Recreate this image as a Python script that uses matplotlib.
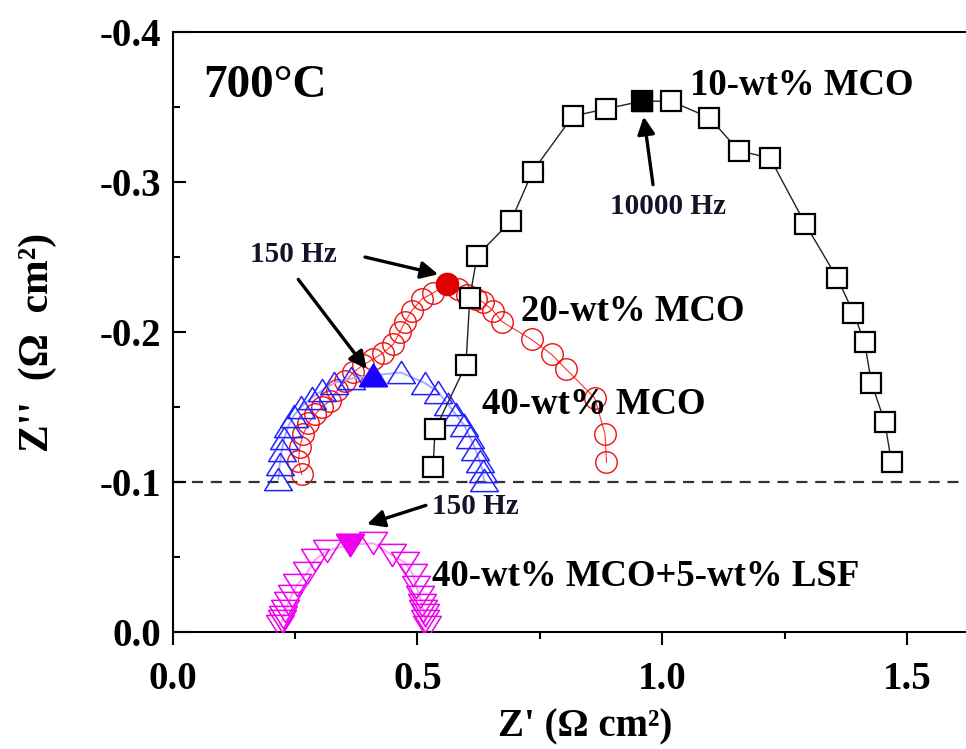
import matplotlib.pyplot as plt
from matplotlib.path import Path
from matplotlib.ticker import MultipleLocator, FormatStrFormatter

plt.rcParams['font.family'] = ['Liberation Serif', 'DejaVu Serif']
plt.rcParams['font.weight'] = 'bold'
plt.rcParams['axes.labelweight'] = 'bold'
plt.rcParams['axes.unicode_minus'] = False

# Nyquist data at 700 C, Z' and Z'' in ohm cm2
mco10_re = [0.532, 0.536, 0.599, 0.607, 0.622, 0.691, 0.735, 0.817, 0.886, 0.958, 1.018,
            1.096, 1.156, 1.220, 1.292, 1.357, 1.390, 1.413, 1.427, 1.454, 1.468]
mco10_im = [-0.110, -0.135, -0.178, -0.223, -0.251, -0.274, -0.307, -0.344, -0.349, -0.354, -0.354,
            -0.343, -0.321, -0.316, -0.272, -0.236, -0.213, -0.193, -0.166, -0.140, -0.113]
mco10_peak = 9  # 10000 Hz

mco20_re = [0.264, 0.257, 0.260, 0.267, 0.277, 0.291, 0.305, 0.321, 0.336, 0.352, 0.369,
            0.389, 0.410, 0.430, 0.451, 0.464, 0.475, 0.488, 0.509, 0.532, 0.560,
            0.583, 0.601, 0.620, 0.634, 0.655, 0.672, 0.733, 0.774, 0.804, 0.862, 0.883, 0.886]
mco20_im = [-0.105, -0.114, -0.123, -0.132, -0.139, -0.145, -0.150, -0.154, -0.161, -0.167, -0.173,
            -0.178, -0.182, -0.186, -0.192, -0.200, -0.207, -0.214, -0.222, -0.226, -0.232,
            -0.229, -0.225, -0.222, -0.220, -0.214, -0.207, -0.195, -0.185, -0.175, -0.156, -0.132, -0.113]
mco20_peak = 20  # 150 Hz

mco40_re = [0.216, 0.219, 0.223, 0.228, 0.236, 0.247, 0.262, 0.284, 0.305, 0.330, 0.365, 0.410,
            0.466, 0.515, 0.542, 0.562, 0.578, 0.595, 0.607, 0.618, 0.627, 0.633, 0.636]
mco40_im = [-0.102, -0.112, -0.121, -0.129, -0.137, -0.144, -0.150, -0.156, -0.161, -0.166, -0.169, -0.171,
            -0.173, -0.166, -0.160, -0.152, -0.145, -0.138, -0.130, -0.122, -0.114, -0.107, -0.101]
mco40_peak = 11  # 150 Hz

lsf_re = [0.219, 0.223, 0.226, 0.230, 0.236, 0.243, 0.254, 0.274, 0.291, 0.315, 0.362,
          0.410, 0.449, 0.475, 0.491, 0.498, 0.505, 0.509, 0.512, 0.515, 0.515, 0.519]
lsf_im = [-0.004, -0.007, -0.010, -0.014, -0.019, -0.024, -0.031, -0.039, -0.048, -0.054, -0.058,
          -0.059, -0.051, -0.046, -0.038, -0.030, -0.023, -0.018, -0.014, -0.011, -0.007, -0.003]
lsf_peak = 10  # 150 Hz

# slightly flattened triangles, closed so the outline is complete
tri_codes = [Path.MOVETO, Path.LINETO, Path.LINETO, Path.CLOSEPOLY]
tri_up = Path([(-1, -0.8), (1, -0.8), (0, 0.8), (-1, -0.8)], tri_codes)
tri_down = Path([(-1, 0.8), (1, 0.8), (0, -0.8), (-1, 0.8)], tri_codes)

fig = plt.figure(figsize=(9.66, 7.49), dpi=100)
ax = fig.add_axes([0.1786, 0.1566, 0.8214, 0.8003])

ax.axhline(-0.1, color='#333333', lw=1.6, ls=(0, (5, 3.5)), zorder=1)

ax.plot(mco20_re, mco20_im, '-', color='#ff3030', lw=0.8, marker='o', ms=15.5,
        mfc='none', mec='#ee1111', mew=1.0, zorder=2)
ax.plot(mco20_re[mco20_peak], mco20_im[mco20_peak], 'o', ms=16, color='#e00000', zorder=6)

ax.plot(mco40_re, mco40_im, '-', color='#aaaaff', lw=1.4, marker=tri_up, ms=20,
        mfc='none', mec='#2222ff', mew=1.1, zorder=3)
ax.plot(mco40_re[mco40_peak], mco40_im[mco40_peak], marker=tri_up, ms=20, ls='none',
        color='#1a00ff', zorder=6)

ax.plot(lsf_re, lsf_im, '-', color='#ffa0ff', lw=1.4, marker=tri_down, ms=20,
        mfc='none', mec='#ee00ee', mew=1.1, zorder=3)
ax.plot(lsf_re[lsf_peak], lsf_im[lsf_peak], marker=tri_down, ms=20, ls='none',
        color='#ee00ee', zorder=6)

ax.plot(mco10_re, mco10_im, '-', color='#222222', lw=1.0, marker='s', ms=14.5,
        mfc='white', mec='black', mew=1.6, zorder=4)
ax.plot(mco10_re[mco10_peak], mco10_im[mco10_peak], 's', ms=14.5, color='black', zorder=6)

# frequency markers
arrow = dict(arrowstyle='-|>', color='black', lw=2.4, mutation_scale=26, shrinkA=0, shrinkB=0)
hz_color = '#141428'
ax.annotate('', xy=(0.962, -0.3437), xytext=(0.981, -0.2983), arrowprops=arrow, zorder=7)
ax.text(1.011, -0.2838, '10000 Hz', fontsize=21, color=hz_color, ha='center', va='center')

ax.annotate('', xy=(0.5424, -0.2385), xytext=(0.393, -0.250), arrowprops=arrow, zorder=7)
ax.annotate('', xy=(0.3963, -0.1753), xytext=(0.2567, -0.2351), arrowprops=arrow, zorder=7)
ax.text(0.246, -0.2518, '150 Hz', fontsize=21, color=hz_color, ha='center', va='center')

ax.annotate('', xy=(0.397, -0.0717), xytext=(0.5173, -0.0843), arrowprops=arrow, zorder=7)
ax.text(0.619, -0.0836, '150 Hz', fontsize=21, color=hz_color, ha='center', va='center')

# series labels
lab = dict(fontsize=26.5, color='black', ha='left', va='center', zorder=8)
ax.text(1.056, -0.3643, '10-wt% MCO', **lab)
ax.text(0.711, -0.214, '20-wt% MCO', **lab)
ax.text(0.632, -0.1515, '40-wt% MCO', **lab)
ax.text(0.5296, -0.037, '40-wt% MCO+5-wt% LSF', **lab)
ax.text(0.062, -0.3643, '700°C', fontsize=34, ha='left', va='center')

ax.set_xlim(0, 1.62)
ax.set_ylim(0, -0.4)
ax.xaxis.set_major_locator(MultipleLocator(0.5))
ax.xaxis.set_minor_locator(MultipleLocator(0.25))
ax.yaxis.set_major_locator(MultipleLocator(0.1))
ax.yaxis.set_minor_locator(MultipleLocator(0.05))
ax.xaxis.set_major_formatter(FormatStrFormatter('%.1f'))
ax.yaxis.set_major_formatter(FormatStrFormatter('%.1f'))

ax.tick_params(axis='y', which='both', direction='in', width=1.5, labelsize=28, pad=8)
ax.tick_params(axis='y', which='major', length=9)
ax.tick_params(axis='y', which='minor', length=5)
ax.tick_params(axis='x', which='both', direction='out', width=1.5, labelsize=28, pad=12)
ax.tick_params(axis='x', which='major', length=9)
ax.tick_params(axis='x', which='minor', length=5)

for side in ['left', 'bottom', 'top']:
    ax.spines[side].set_linewidth(1.5)
ax.spines['right'].set_visible(False)

ax.set_xlabel("Z' (Ω cm²)", fontsize=28)
ax.set_ylabel("Z''  (Ω  cm²)", fontsize=30)
ax.xaxis.set_label_coords(0.52, -0.128)
ax.yaxis.set_label_coords(-0.145, 0.483)

fig.savefig('out.png', dpi=100)
